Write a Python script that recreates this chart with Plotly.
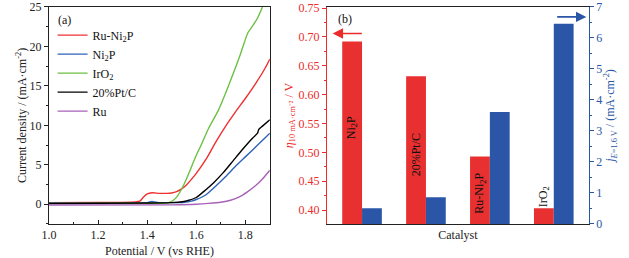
import plotly.graph_objects as go

# ---------------- data: panel (a) LSV curves ----------------
v_runi2p = [1.00, 1.20, 1.35, 1.37, 1.385, 1.40, 1.42, 1.45, 1.48, 1.50, 1.52, 1.54, 1.56, 1.60, 1.64, 1.68, 1.72, 1.76, 1.80, 1.84, 1.88, 1.90]
j_runi2p = [0.20, 0.22, 0.30, 0.40, 0.90, 1.30, 1.45, 1.38, 1.38, 1.42, 1.60, 1.95, 2.45, 3.90, 5.70, 7.90, 9.90, 11.7, 13.4, 15.2, 17.2, 18.4]

v_ni2p = [1.00, 1.40, 1.41, 1.42, 1.44, 1.50, 1.55, 1.58, 1.60, 1.64, 1.68, 1.72, 1.76, 1.80, 1.84, 1.88, 1.90]
j_ni2p = [0.15, 0.18, 0.30, 0.35, 0.22, 0.20, 0.25, 0.40, 0.60, 1.20, 2.30, 3.50, 4.80, 6.00, 7.20, 8.40, 9.00]

v_iro2 = [1.00, 1.30, 1.48, 1.50, 1.52, 1.54, 1.56, 1.58, 1.60, 1.62, 1.65, 1.69, 1.72, 1.75, 1.78, 1.81, 1.83, 1.85, 1.87]
j_iro2 = [0.10, 0.12, 0.15, 0.35, 0.90, 1.90, 3.20, 4.70, 6.20, 7.50, 9.60, 11.9, 14.1, 16.5, 19.0, 21.7, 22.6, 23.6, 25.0]

v_ptc = [1.00, 1.40, 1.50, 1.55, 1.57, 1.60, 1.63, 1.67, 1.71, 1.75, 1.79, 1.83, 1.85, 1.855, 1.87, 1.90]
j_ptc = [0.10, 0.15, 0.20, 0.35, 0.50, 0.85, 1.60, 2.70, 4.00, 5.50, 7.00, 8.40, 9.00, 9.50, 9.90, 10.7]

v_ru = [1.00, 1.50, 1.60, 1.65, 1.70, 1.74, 1.78, 1.81, 1.84, 1.87, 1.90]
j_ru = [-0.10, -0.08, 0.00, 0.10, 0.25, 0.50, 1.00, 1.60, 2.30, 3.20, 4.30]

# ---------------- data: panel (b) bars ----------------
catalysts = ["Ni<sub>2</sub>P", "20%Pt/C", "Ru-Ni<sub>2</sub>P", "IrO<sub>2</sub>"]
eta10 = [0.692, 0.632, 0.493, 0.403]       # V, left (red) axis
j16 = [0.51, 0.86, 3.61, 6.46]             # mA cm-2, right (blue) axis
label_y = [0.542, 0.495, 0.430, 0.424]     # vertical centre of in-bar labels

FONT = "Liberation Serif"
RED = "#ec2b2b"
BLUE = "#2a56a6"
BAR_RED = "#e83030"
BAR_BLUE = "#2b56a8"

fig = go.Figure()

curves = [
    ("Ru-Ni<sub>2</sub>P", v_runi2p, j_runi2p, "#f03030"),
    ("Ni<sub>2</sub>P", v_ni2p, j_ni2p, "#2f62b8"),
    ("IrO<sub>2</sub>", v_iro2, j_iro2, "#6cc043"),
    ("20%Pt/C", v_ptc, j_ptc, "#000000"),
    ("Ru", v_ru, j_ru, "#a862b8"),
]
for name, vx, jy, col in curves:
    fig.add_trace(go.Scatter(x=vx, y=jy, mode="lines", name=name,
                             line=dict(color=col, width=1.4, shape="spline", smoothing=0.6),
                             xaxis="x", yaxis="y"))

xpos = list(range(len(catalysts)))
fig.add_trace(go.Bar(x=xpos, y=eta10, width=0.31, offset=-0.31, marker_color=BAR_RED,
                     marker_line_width=0, showlegend=False, xaxis="x2", yaxis="y3"))
fig.add_trace(go.Bar(x=xpos, y=j16, width=0.31, offset=0.0, marker_color=BAR_BLUE,
                     marker_line_width=0, showlegend=False, xaxis="x2", yaxis="y4"))

FS = 12
tickfont = dict(family=FONT, size=FS, color="#222")
ann = []
for i, (lab, ly) in enumerate(zip(catalysts, label_y)):
    ann.append(dict(x=i - 0.155, y=ly, xref="x2", yref="y3", text=lab, textangle=-90,
                    xanchor="center", yanchor="middle",
                    showarrow=False, font=dict(family=FONT, size=12, color="#111")))

ann += [
    dict(x=0.1025, y=0.922, xref="paper", yref="paper", text="(a)", showarrow=False,
         xanchor="center", yanchor="middle",
         font=dict(family=FONT, size=12, color="#111")),
    dict(x=0.549, y=0.926, xref="paper", yref="paper", text="(b)", showarrow=False,
         xanchor="center", yanchor="middle",
         font=dict(family=FONT, size=12, color="#111")),
    # red arrow pointing to left axis
    dict(x=-0.46, y=0.706, ax=0.02, ay=0.706, xref="x2", yref="y3", axref="x2", ayref="y3",
         text="", showarrow=True, arrowhead=2, arrowsize=1.3, arrowwidth=1.6, arrowcolor=RED),
    # blue arrow pointing to right axis
    dict(x=3.51, y=6.68, ax=3.03, ay=6.68, xref="x2", yref="y4", axref="x2", ayref="y4",
         text="", showarrow=True, arrowhead=2, arrowsize=1.3, arrowwidth=1.6, arrowcolor=BLUE),
]

common = dict(automargin=False, showgrid=False, zeroline=False, ticklabeloverflow="allow")

fig.update_layout(
    template="none",
    width=629, height=258,
    margin=dict(l=0, r=0, t=0, b=0, autoexpand=False),
    paper_bgcolor="white", plot_bgcolor="white",
    barmode="overlay",
    font=dict(family=FONT, size=FS, color="#222"),
    annotations=ann,
    legend=dict(x=0.0836, y=0.92, xanchor="left", yanchor="top", bgcolor="rgba(0,0,0,0)",
                font=dict(family=FONT, size=FS, color="#111"), itemwidth=30,
                tracegroupgap=0, borderwidth=0),
    xaxis=dict(domain=[0.078, 0.429], range=[1.0, 1.9], anchor="y",
               tickvals=[1.0, 1.2, 1.4, 1.6, 1.8], ticktext=["1.0", "1.2", "1.4", "1.6", "1.8"],
               ticks="inside", ticklen=4, tickcolor="#222", tickfont=tickfont,
               minor=dict(dtick=0.1, ticks="inside", ticklen=2, tickcolor="#222"),
               showline=True, linecolor="#222", linewidth=1.2, mirror=True,
               title=dict(text="Potential / V (vs RHE)", font=dict(family=FONT, size=FS, color="#222"), standoff=6),
               **common),
    yaxis=dict(domain=[0.132, 0.973], range=[-2.5, 25], anchor="x",
               tickvals=[0, 5, 10, 15, 20, 25],
               ticks="outside", ticklen=4, tickcolor="#222", tickfont=tickfont,
               minor=dict(dtick=2.5, ticks="outside", ticklen=2, tickcolor="#222"),
               showline=True, linecolor="#222", linewidth=1.2, mirror=True,
               title=dict(text="Current density / (mA·cm<sup>-2</sup>)", font=dict(family=FONT, size=FS, color="#222"), standoff=0),
               **common),
    xaxis2=dict(domain=[0.52, 0.936], range=[-0.547, 3.547], anchor="y3",
                showticklabels=False, ticks="",
                showline=True, linecolor="#222", linewidth=1.2, mirror=True,
                title=dict(text="Catalyst", font=dict(family=FONT, size=FS, color="#222"), standoff=6),
                **common),
    yaxis3=dict(domain=[0.132, 0.973], range=[0.376, 0.752], anchor="x2",
                tickvals=[0.40, 0.45, 0.50, 0.55, 0.60, 0.65, 0.70, 0.75], tickformat=".2f",
                ticks="outside", ticklen=4, tickcolor=RED,
                tickfont=dict(family=FONT, size=FS, color=RED),
                minor=dict(dtick=0.025, ticks="outside", ticklen=2, tickcolor=RED),
                showline=True, linecolor=RED, linewidth=1.2,
                title=dict(text="<i>η</i><sub>10 mA·cm⁻²</sub> / V", font=dict(family=FONT, size=FS, color=RED), standoff=2),
                **common),
    yaxis4=dict(domain=[0.132, 0.973], range=[0, 7], anchor="x2", overlaying="y3", side="right",
                tickvals=[0, 1, 2, 3, 4, 5, 6, 7],
                ticks="outside", ticklen=4, tickcolor=BLUE,
                tickfont=dict(family=FONT, size=FS, color=BLUE),
                minor=dict(dtick=0.5, ticks="outside", ticklen=2, tickcolor=BLUE),
                showline=True, linecolor=BLUE, linewidth=1.2,
                title=dict(text="<i>j</i><sub><i>E</i>=1.6 V</sub> / (mA·cm<sup>-2</sup>)", font=dict(family=FONT, size=FS, color=BLUE), standoff=2),
                **common),
)

fig.write_html("out.html", config={"displayModeBar": False},
               post_script="document.body.style.margin='0';")
